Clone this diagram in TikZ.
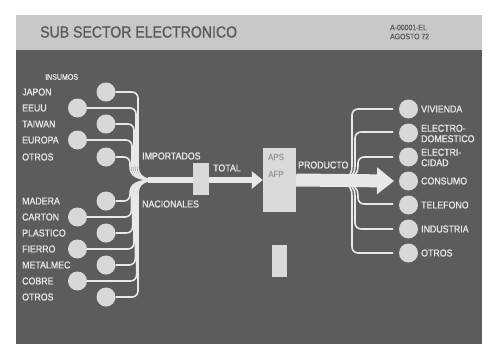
\documentclass[tikz,border=0pt]{standalone}
\usepackage{fontspec}
\setmainfont{Liberation Sans}[FakeStretch=0.88,FakeBold=0.9]
\usetikzlibrary{arrows.meta}
\definecolor{bandgray}{HTML}{C8C8C8}
\definecolor{titlegray}{HTML}{5A5A5A}
\definecolor{panelgray}{HTML}{5C5C5C}
\definecolor{linewhite}{HTML}{E8E8E8}
\definecolor{circlegray}{HTML}{D8D8D8}
\definecolor{boxgray}{HTML}{DADADA}
\definecolor{boxtext}{HTML}{9A9A9A}
\tikzset{
  lbl/.style={font=\fontsize{10}{10.5}\selectfont, text=linewhite, inner sep=0pt, anchor=west, align=left},
  dot/.style={circle, fill=circlegray, minimum size=19pt, inner sep=0pt},
  thinline/.style={draw=linewhite, line width=1.6pt},
  lightbox/.style={fill=boxgray, draw=none, inner sep=0pt},
}
\newcommand\impline[3]{\draw[thinline] (#1.east) -- ({#3-6},#2) .. controls ({#3-2.7},#2) and (#3,{#2+2.7}) .. (#3,{#2+6}) -- (#3,166) .. controls (#3,176) and ({#3+6},180) .. (tl);}
\newcommand\nacline[3]{\draw[thinline] (#1.east) -- ({#3-6},#2) .. controls ({#3-2.7},#2) and (#3,{#2-2.7}) .. (#3,{#2-6}) -- (#3,194) .. controls (#3,184) and ({#3+6},180) .. (tl);}
\newcommand\upline[3]{\draw[thinline] (#1) -- ({#3+6},#2) .. controls ({#3+2.7},#2) and (#3,{#2+2.7}) .. (#3,{#2+6}) -- (#3,166) .. controls (#3,174) and ({#3-4},179) .. (tr);}
\newcommand\downline[3]{\draw[thinline] (#1) -- ({#3+6},#2) .. controls ({#3+2.7},#2) and (#3,{#2-2.7}) .. (#3,{#2-6}) -- (#3,196) .. controls (#3,188) and ({#3-4},183) .. (tr);}
\begin{document}
\begin{tikzpicture}[x=1pt,y=-1pt]
\useasboundingbox (0,0) rectangle (488,349);
\fill[white] (0,0) rectangle (488,349);
% panels
\fill[bandgray] (16,15) rectangle (482,50);
\fill[panelgray] (16,50) rectangle (482,344);
\node[font=\fontsize{16}{16}\selectfont, text=titlegray, inner sep=0pt, anchor=west] (title) at (40,32) {SUB SECTOR ELECTRONICO};
\node[font=\fontsize{7.8}{9}\selectfont, text=titlegray, inner sep=0pt, anchor=west, align=left] (code) at (390,32) {A-00001-EL\\AGOSTO 72};

% merge points
\coordinate (tl) at (158,180);
\coordinate (tr) at (342,181);

% left circles
\node[dot] (c1) at (106,92) {};
\node[dot] (c2) at (77.5,108) {};
\node[dot] (c3) at (106,124) {};
\node[dot] (c4) at (77.5,140) {};
\node[dot] (c5) at (106,157) {};
\node[dot] (n1) at (106,201) {};
\node[dot] (n2) at (77.5,217) {};
\node[dot] (n3) at (106,233) {};
\node[dot] (n4) at (77.5,249) {};
\node[dot] (n5) at (106,265) {};
\node[dot] (n6) at (77.5,281) {};
\node[dot] (n7) at (106,297) {};

% left labels
\node[lbl, font=\fontsize{8}{9}\selectfont] (insumos) at (45,77) {INSUMOS};
\node[lbl] (l1) at (22,92) {JAPON};
\node[lbl] (l2) at (22,108) {EEUU};
\node[lbl] (l3) at (22,124) {TAIWAN};
\node[lbl] (l4) at (22,140) {EUROPA};
\node[lbl] (l5) at (22,157) {OTROS};
\node[lbl] (m1) at (22,201) {MADERA};
\node[lbl] (m2) at (22,217) {CARTON};
\node[lbl] (m3) at (22,233) {PLASTICO};
\node[lbl] (m4) at (22,249) {FIERRO};
\node[lbl] (m5) at (22,265) {METALMEC};
\node[lbl] (m6) at (22,281) {COBRE};
\node[lbl] (m7) at (22,297) {OTROS};

% left connectors
\impline{c1}{92}{138}
\impline{c2}{108}{136}
\impline{c3}{124}{134}
\impline{c4}{140}{132}
\impline{c5}{157}{130}
\nacline{n1}{201}{130}
\nacline{n2}{217}{131.3}
\nacline{n3}{233}{132.6}
\nacline{n4}{249}{134}
\nacline{n5}{265}{135.3}
\nacline{n6}{281}{136.6}
\nacline{n7}{297}{138}

% boxes
\node[lightbox, minimum width=33pt, minimum height=64pt] (aps) at (279.5,180) {};
\coordinate (ts) at (148,180);
\draw[linewhite, line width=6pt, -{Triangle[length=11pt,width=17pt]}] (ts) -- (aps.west);
\node[lightbox, minimum width=16pt, minimum height=32pt] (total) at (201,179) {};
\node[font=\fontsize{9}{9}\selectfont, text=boxtext, inner sep=0pt] (apstxt) at (276,157) {APS};
\node[font=\fontsize{9}{9}\selectfont, text=boxtext, inner sep=0pt] (afptxt) at (276,174) {AFP};
\node[lightbox, minimum width=15pt, minimum height=32pt] (small) at (279.5,261) {};

\node[lbl] (imp) at (142,156) {IMPORTADOS};
\node[lbl] (nac) at (142,204) {NACIONALES};
\node[lbl] (tot) at (213,168) {TOTAL};
\node[lbl] (prod) at (298,165) {PRODUCTO};

% right circles
\node[dot] (r1) at (408.5,109) {};
\node[dot] (r2) at (408.5,133) {};
\node[dot] (r3) at (408.5,157) {};
\node[dot] (r4) at (408.5,181) {};
\node[dot] (r5) at (408.5,205) {};
\node[dot] (r6) at (408.5,229) {};
\node[dot] (r7) at (408.5,253) {};

\coordinate (e1) at (393,109);
\coordinate (e2) at (393,132);
\coordinate (e3) at (393,157);
\coordinate (e5) at (393,204);
\coordinate (e6) at (393,229);
\coordinate (e7) at (393,253);
\upline{e1}{109}{352}
\upline{e2}{132}{355}
\upline{e3}{157}{358}
\downline{e5}{204}{358}
\downline{e6}{229}{355}
\downline{e7}{253}{352}

\coordinate (oe) at (394,181);
\draw[linewhite, line width=13pt, -{Triangle[length=17pt,width=26pt]}] (aps.east) -- (oe);

% right labels
\node[lbl] (v1) at (421,109) {VIVIENDA};
\node[lbl] (v2) at (421,133.5) {ELECTRO-\\DOMESTICO};
\node[lbl] (v3) at (421,157.5) {ELECTRI-\\CIDAD};
\node[lbl] (v4) at (421,181) {CONSUMO};
\node[lbl] (v5) at (421,205) {TELEFONO};
\node[lbl] (v6) at (421,229) {INDUSTRIA};
\node[lbl] (v7) at (421,253) {OTROS};
\end{tikzpicture}
\end{document}
